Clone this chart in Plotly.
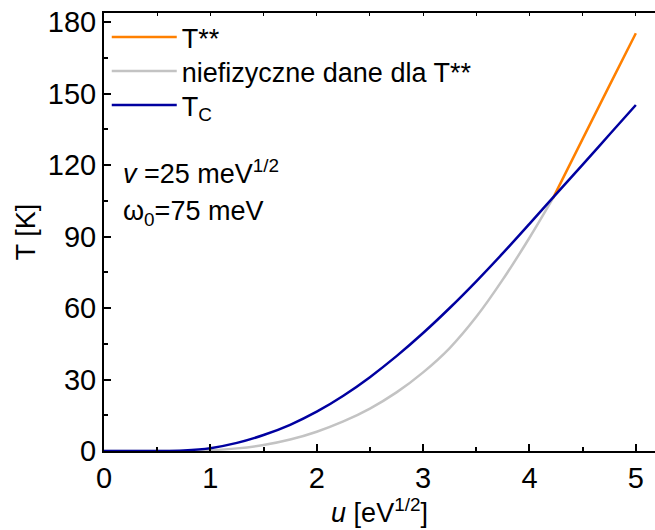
import plotly.graph_objects as go

# Data
u_tc = [0, 0.25, 0.5, 0.75, 1.0, 1.25, 1.5, 1.75, 2.0, 2.25, 2.5, 2.75, 3.0, 3.25, 3.5, 3.75, 4.0, 4.25, 4.5, 4.75, 5.0]
t_tc = [0, 0, 0.02, 0.25, 1.2, 3.4, 6.7, 11.0, 16.5, 23.2, 31.0, 39.8, 49.5, 60.0, 71.2, 83.0, 95.3, 107.8, 120.2, 132.7, 145.2]

u_gray = [0, 0.25, 0.5, 0.75, 1.0, 1.25, 1.5, 1.75, 2.0, 2.25, 2.5, 2.75, 3.0, 3.25, 3.5, 3.75, 4.0, 4.22]
t_gray = [0, 0, 0, 0.05, 0.35, 1.1, 2.5, 4.8, 8.1, 12.4, 17.8, 24.6, 33.0, 43.2, 56.3, 72.0, 89.5, 106.0]

u_orange = [4.22, 4.5, 4.75, 5.0]
t_orange = [106.0, 131.0, 153.2, 175.3]

FONT = "Liberation Sans, Arial, sans-serif"
X_RANGE = [0, 5.18]
Y_RANGE = [0, 183.8]

fig = go.Figure()
fig.add_trace(go.Scatter(x=u_gray, y=t_gray, mode="lines", name="niefizyczne dane dla T**",
                         line=dict(color="#c3c3c3", width=2.5, shape="spline"), legend="legend2"))
fig.add_trace(go.Scatter(x=u_orange, y=t_orange, mode="lines", name="T**",
                         line=dict(color="#ff8000", width=2.5, shape="spline"), legend="legend"))
fig.add_trace(go.Scatter(x=u_tc, y=t_tc, mode="lines", name="T<sub>C</sub>",
                         line=dict(color="#0000a0", width=2.5, shape="spline"), legend="legend3"))
# invisible trace to activate the top axis
fig.add_trace(go.Scatter(x=[0], y=[0], xaxis="x2", mode="markers", marker=dict(opacity=0),
                         showlegend=False, hoverinfo="skip"))

leg = dict(x=0.005, xanchor="left", yanchor="top", bgcolor="rgba(0,0,0,0)",
           font=dict(size=27), tracegroupgap=0, itemwidth=65)

fig.update_layout(
    width=655, height=530,
    margin=dict(l=104, r=0, t=13, b=79),
    plot_bgcolor="white", paper_bgcolor="white",
    font=dict(family=FONT, size=27, color="black"),
    showlegend=True,
    legend=dict(leg, y=1.0),
    legend2=dict(leg, y=0.9224),
    legend3=dict(leg, y=0.8447),
    xaxis=dict(range=X_RANGE, dtick=1, tick0=0, ticks="inside", ticklen=7, tickwidth=1.5,
               tickcolor="black", showline=True, linecolor="black", linewidth=2,
               showgrid=False, zeroline=False, tickfont=dict(size=29),
               minor=dict(dtick=0.5, ticks="inside", ticklen=4, tickcolor="black", tickwidth=1.5),
               title=dict(text="<i>u</i> [eV<sup>1/2</sup>]", standoff=2, font=dict(size=27))),
    xaxis2=dict(range=X_RANGE, overlaying="x", side="top", dtick=0.5, tick0=0, ticks="inside",
                ticklen=3, tickwidth=1, tickcolor="black", showline=True, linecolor="black",
                linewidth=1.5, showticklabels=False, showgrid=False, zeroline=False),
    yaxis=dict(range=Y_RANGE, dtick=30, tick0=0, ticks="inside", ticklen=7, tickwidth=1.5,
               tickcolor="black", showline=True, linecolor="black", linewidth=2,
               showgrid=False, zeroline=False, tickfont=dict(size=29),
               minor=dict(dtick=15, ticks="inside", ticklen=4, tickcolor="black", tickwidth=1.5),
               title=dict(text="T [K]", standoff=4, font=dict(size=27))),
)

fig.add_annotation(x=0.16, y=117, xref="x", yref="y", xanchor="left", yanchor="middle",
                   text="<i>v</i> =25 meV<sup>1/2</sup>", showarrow=False, font=dict(size=27))
fig.add_annotation(x=0.16, y=100, xref="x", yref="y", xanchor="left", yanchor="middle",
                   text="ω<sub>0</sub>=75 meV", showarrow=False, font=dict(size=27))

fig.write_html("out.html")
